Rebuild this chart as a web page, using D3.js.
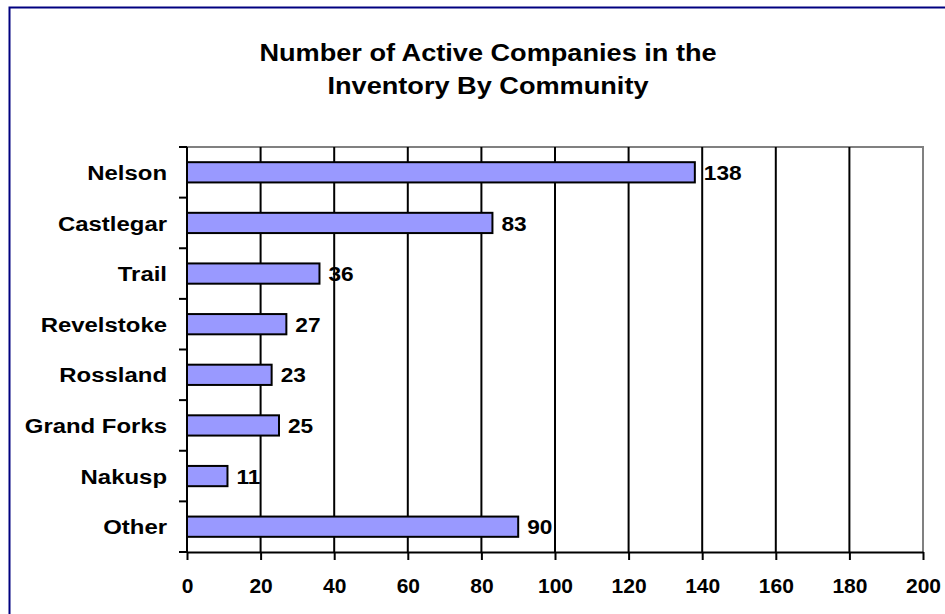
<!DOCTYPE html>
<html><head><meta charset="utf-8">
<script src="https://cdn.jsdelivr.net/npm/d3@7"></script>
<style>body{margin:0;background:#fff}svg{display:block}text{font-family:"Liberation Sans",Arial,sans-serif;font-weight:bold;fill:#000}</style>
</head><body>
<svg id="c" width="945" height="614"></svg>
<script>
const categories = ["Nelson","Castlegar","Trail","Revelstoke","Rossland","Grand Forks","Nakusp","Other"];
const values = [138,83,36,27,23,25,11,90];
const xTicks = [0,20,40,60,80,100,120,140,160,180,200];
const titleLines = ["Number of Active Companies in the","Inventory By Community"];

const svg = d3.select("#c");
svg.append("rect").attr("x",9.5).attr("y",7.5).attr("width",960).attr("height",640)
  .attr("fill","#fff").attr("stroke","#000080").attr("stroke-width",2);

const L=187, R=923, T=147, B=552;
const x = d3.scaleLinear().domain([0,200]).range([L,R]);
const y = d3.scaleBand().domain(categories).range([T,B]).paddingInner(0.6).paddingOuter(0.3);
const yb = d3.scaleBand().domain(categories).range([T,B]);

// plot border (gray)
svg.append("path").attr("d",`M${L},${T}H${R}V${B}`).attr("fill","none").attr("stroke","#808080").attr("stroke-width",2);

// gridlines
svg.append("g").selectAll("line").data(xTicks.filter(d=>d>0&&d<200)).join("line")
  .attr("x1",d=>x(d)).attr("x2",d=>x(d)).attr("y1",T).attr("y2",B)
  .attr("stroke","#000").attr("stroke-width",2);

// bars
svg.append("g").selectAll("rect").data(values).join("rect")
  .attr("x",x(0)).attr("y",(d,i)=>y(categories[i]))
  .attr("width",d=>x(d)-x(0)).attr("height",y.bandwidth())
  .attr("fill","#9999FF").attr("stroke","#000").attr("stroke-width",2);

// value labels
svg.append("g").selectAll("text").data(values).join("text")
  .attr("transform",(d,i)=>`translate(${x(d)+9},${y(categories[i])+y.bandwidth()/2}) scale(1.08,1)`)
  .attr("dy","0.36em").attr("font-size",21).text(d=>d);

// x axis
const xAxis = d3.axisBottom(x).tickValues(xTicks).tickSize(8).tickPadding(18).tickSizeOuter(0);
const gx = svg.append("g").attr("transform",`translate(0,${B})`).call(xAxis);
gx.select(".domain").attr("stroke","#000").attr("stroke-width",2);
gx.selectAll(".tick line").attr("stroke","#000").attr("stroke-width",2);
gx.selectAll(".tick text").attr("font-size",21).attr("font-family","Liberation Sans, Arial, sans-serif").attr("font-weight","bold").attr("fill","#000");

// y axis
const gy = svg.append("g").attr("transform",`translate(${L},0)`);
gy.append("line").attr("x1",0).attr("x2",0).attr("y1",T).attr("y2",B).attr("stroke","#000").attr("stroke-width",2);
const bounds = categories.map(c=>yb(c)).concat([B]);
gy.selectAll("line.t").data(bounds).join("line").attr("class","t")
  .attr("x1",-8).attr("x2",0).attr("y1",d=>d).attr("y2",d=>d).attr("stroke","#000").attr("stroke-width",2);
gy.selectAll("text").data(categories).join("text")
  .attr("transform",d=>`translate(-20,${yb(d)+yb.bandwidth()/2}) scale(1.14,1)`).attr("dy","0.36em")
  .attr("text-anchor","end").attr("font-size",21).text(d=>d);

// title
svg.append("g").selectAll("text").data(titleLines).join("text")
  .attr("transform",(d,i)=>`translate(488,${61+i*33}) scale(1.18,1)`)
  .attr("text-anchor","middle").attr("font-size",23).text(d=>d);
</script>
</body></html>
